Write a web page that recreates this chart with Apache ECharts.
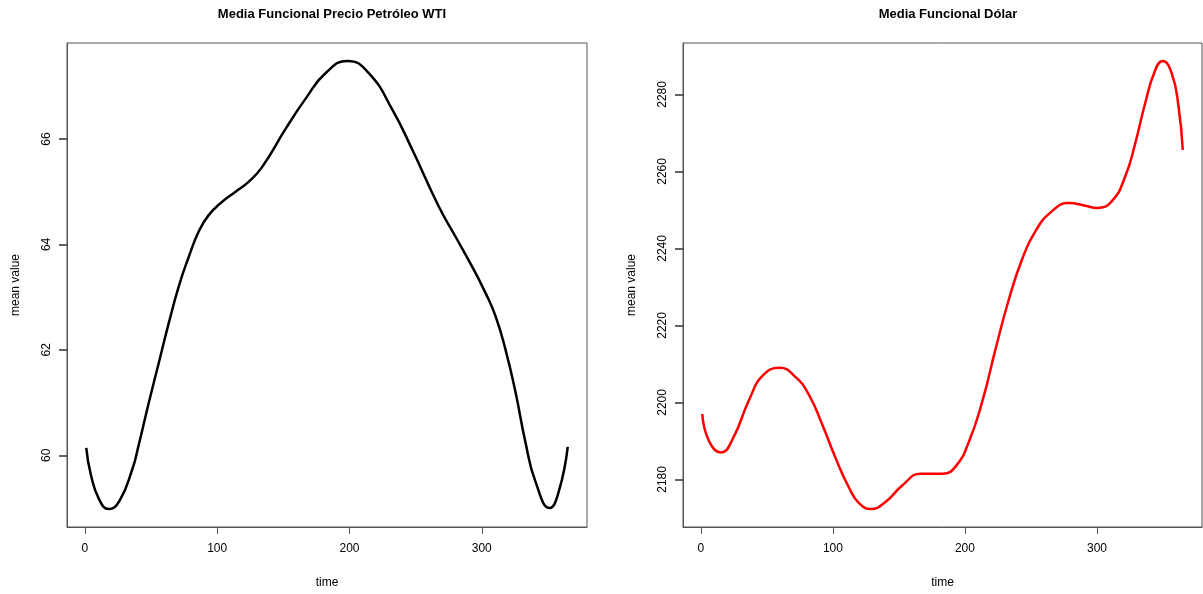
<!doctype html>
<html>
	<head>
		<meta charset="UTF-8">
		<title>Media Funcional</title>
		<style type="text/css">
			html, body {
				margin: 0;
				padding: 0;
				background: #fff;
			}
			#main {
				width: 1203px;
				height: 594px;
			}
		</style>
	</head>
	<body>
		<div id="main"></div>
		<script src="https://cdn.jsdelivr.net/npm/echarts@6/dist/echarts.min.js"></script>
		<script type="text/javascript">
			// media funcional petroleo WTI (dia, valor)
			var wtiTime = [1, 4.5, 10.8, 17.9, 26, 36, 40.3, 48.4, 55.9, 63.5, 71, 78.6, 86.1, 93.7, 103.8, 113.9, 123.9, 134, 151.9, 167, 182,
				198.5, 214.9, 232.5, 247.6, 267.5, 280.1, 292.7, 302.8, 310.4, 317.9, 325.5, 333, 340.6, 351.4, 358.2, 365];
			var wtiMean = [60.14, 59.63, 59.16, 58.98, 59.13, 59.75, 60.16, 61.01, 61.76, 62.52, 63.21, 63.77, 64.25, 64.56, 64.81, 65.0, 65.19, 65.47, 66.2, 66.77, 67.25,
				67.48, 67.24, 66.55, 65.79, 64.72, 64.15, 63.58, 63.08, 62.64, 62.01, 61.2, 60.25, 59.5, 59.0, 59.31, 60.16];
			// media funcional dolar
			var usdTime = [1, 6.5, 15.3, 24.2, 36.8, 46.9, 59.5, 72, 82.1, 92.2, 102.2, 112.4, 119.9, 128.7, 140, 152.7, 166.5, 182.9,
				193, 203, 213.1, 223.2, 233.3, 243.3, 253.4, 266, 278.6, 291.2, 300, 311.3, 321.4, 329, 336.5, 344.1, 349.7, 356.7, 361.8, 365];
			var usdMean = [2197.0, 2189.7, 2187.0, 2190.6, 2200.9, 2207.0, 2209.0, 2206.5, 2201.8, 2194.0, 2185.4, 2177.7, 2173.8, 2172.3, 2174.2, 2178.5, 2181.5, 2181.5,
				2183.4, 2189.8, 2200.2, 2213.9, 2226.8, 2237.2, 2244.5, 2249.7, 2251.8, 2251.1, 2250.5, 2252.3, 2258.7, 2267.3, 2277.7, 2286.3, 2288.7, 2285.4, 2276.8, 2265.6];
			// marcas de los ejes
			var timeTicks = [0, 100, 200, 300];
			var wtiTicks = [60, 62, 64, 66];
			var usdTicks = [2180, 2200, 2220, 2240, 2260, 2280];

			var pares = function(xs, ys){
				var out = [];
				for (var i = 0; i < xs.length; i++) {
					out.push([xs[i], ys[i]]);
				}
				return out;
			};

			var fuente = '"Liberation Sans", Arial, sans-serif';
			var gris = '#555';

			var ejeX = function(idx){
				return {
					type: 'value',
					gridIndex: idx,
					min: -13.56,
					max: 379.56,
					name: 'time',
					nameLocation: 'middle',
					nameGap: 50,
					nameTextStyle: { fontFamily: fuente, fontSize: 12, color: '#000' },
					axisLine: { show: true, onZero: false, lineStyle: { color: gris, width: 1 } },
					splitLine: { show: false },
					axisTick: { show: true, length: 7, lineStyle: { color: gris }, customValues: timeTicks },
					axisLabel: { fontFamily: fuente, fontSize: 12, color: '#000', margin: 16, customValues: timeTicks,
						formatter: function(v){ return String(v); } }
				};
			};
			var ejeY = function(idx, min, max, ticks){
				return {
					type: 'value',
					gridIndex: idx,
					position: 'left',
					min: min,
					max: max,
					name: 'mean value',
					nameLocation: 'middle',
					nameGap: 45,
					nameRotate: 90,
					nameTextStyle: { fontFamily: fuente, fontSize: 12, color: '#000' },
					axisLine: { show: true, onZero: false, lineStyle: { color: gris, width: 1 } },
					splitLine: { show: false },
					axisTick: { show: true, inside: false, length: 8, lineStyle: { color: '#333', width: 1.5 }, customValues: ticks },
					axisLabel: { fontFamily: fuente, fontSize: 12, color: '#000', margin: 14, rotate: 90, customValues: ticks,
						formatter: function(v){ return String(v); } }
				};
			};

			var chart = echarts.init(document.getElementById('main'));
			var option = {
				animation: false,
				backgroundColor: '#fff',
				title: [
					{ text: 'Media Funcional Precio Petróleo WTI', left: 327, top: 3, textAlign: 'center',
						textStyle: { fontFamily: fuente, fontSize: 13, fontWeight: 'bold', color: '#000' } },
					{ text: 'Media Funcional Dólar', left: 943, top: 3, textAlign: 'center',
						textStyle: { fontFamily: fuente, fontSize: 13, fontWeight: 'bold', color: '#000' } }
				],
				grid: [
					{ left: 67, top: 43, width: 520, height: 485, show: true, borderColor: gris, borderWidth: 1, backgroundColor: 'transparent' },
					{ left: 683, top: 43, width: 519, height: 485, show: true, borderColor: gris, borderWidth: 1, backgroundColor: 'transparent' }
				],
				xAxis: [ejeX(0), ejeX(1)],
				yAxis: [
					ejeY(0, 58.64, 67.82, wtiTicks),
					ejeY(1, 2167.64, 2293.36, usdTicks)
				],
				series: [
					{
						name: 'WTI',
						type: 'line',
						xAxisIndex: 0,
						yAxisIndex: 0,
						data: pares(wtiTime, wtiMean),
						smooth: 0.5,
						showSymbol: false,
						lineStyle: { color: '#000', width: 2.5 }
					},
					{
						name: 'Dolar',
						type: 'line',
						xAxisIndex: 1,
						yAxisIndex: 1,
						data: pares(usdTime, usdMean),
						smooth: 0.5,
						showSymbol: false,
						lineStyle: { color: '#ff0000', width: 2.5 }
					}
				]
			};
			chart.setOption(option);
		</script>
	</body>
</html>
